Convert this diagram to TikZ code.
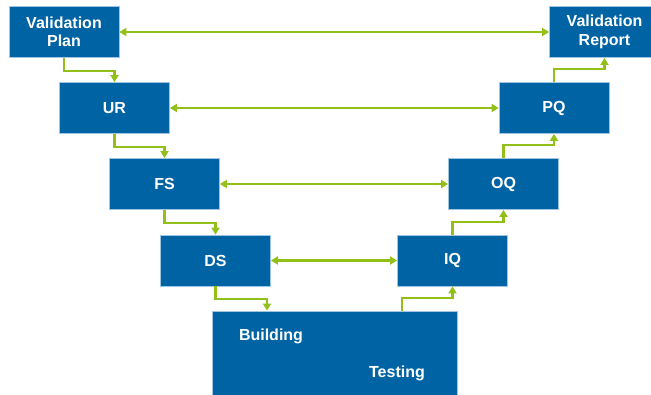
\documentclass[tikz,border=0pt]{standalone}
\usepackage{fontspec}
\setmainfont{Liberation Sans}
\usetikzlibrary{arrows.meta, positioning}

\definecolor{boxblue}{RGB}{0,99,164}
\definecolor{boxedge}{RGB}{160,196,228}
\definecolor{flowgreen}{RGB}{146,192,24}

\tikzset{
  vbox/.style={draw=boxedge, line width=0.8pt, fill=boxblue, text=white,
    minimum width=110pt, minimum height=51pt, align=center, inner sep=0pt,
    font=\bfseries\fontsize{16}{18.5}\selectfont},
  vtext/.style={text=white, inner sep=0pt, font=\bfseries\fontsize{16}{18.5}\selectfont},
  flow/.style={draw=flowgreen, line width=2.1pt, -{Triangle[length=7pt,width=8pt]}},
  link/.style={flow, {Triangle[length=7pt,width=8pt]}-{Triangle[length=7pt,width=8pt]}}
}

\begin{document}
\begin{tikzpicture}[x=1pt, y=-1pt]
  \useasboundingbox (0,0) rectangle (651,394);
  \begin{scope}
  \clip (0,0) rectangle (651,394);

          % left leg
          \node[vbox] (plan) at (64,32) {Validation\\Plan};
          \node[vbox] (ur) at (114.5,108) {UR};
          \node[vbox] (fs) at (164.5,184) {FS};
          \node[vbox] (ds) at (215.5,260.5) {DS};

          % right leg
          \node[vbox] (iq) at (452.5,260.5) {IQ};
          \node[vbox] (oq) at (503.5,184) {OQ};
          \node[vbox] (pq) at (554,108) {PQ};
          \node[vbox] (report) at (604.5,32) {Validation\\Report};

          % bottom of the V
          \node[vbox, minimum width=245pt, minimum height=120pt] (build) at (334.5,371) {};
          \node[vtext] (building) at (271,336) {Building};
          \node[vtext] (testing) at (397,373) {Testing};

          % horizontal links
          \draw[link] (plan) -- (report);
          \draw[link] (ur) -- (pq);
          \draw[link] (fs) -- (oq);
          \draw[link] (ds) -- (iq);

          % steps down
          \draw[flow] (plan.south) -- ++(0,13) -| (ur.north);
          \draw[flow] (ur.south) -- ++(0,13) -| (fs.north);
          \draw[flow] (fs.south) -- ++(0,13) -| (ds.north);
          \draw[flow] (ds.south) -- ++(0,12.5) -| ([xshift=-67.5pt]build.north);

          % steps up
          \draw[flow] ([xshift=67.5pt]build.north) -- ++(0,-12.5) -| (iq.south);
          \draw[flow] (iq.north) -- ++(0,-13) -| (oq.south);
          \draw[flow] (oq.north) -- ++(0,-13) -| (pq.south);
          \draw[flow] (pq.north) -- ++(0,-13) -| (report.south);
  \end{scope}
\end{tikzpicture}
\end{document}
